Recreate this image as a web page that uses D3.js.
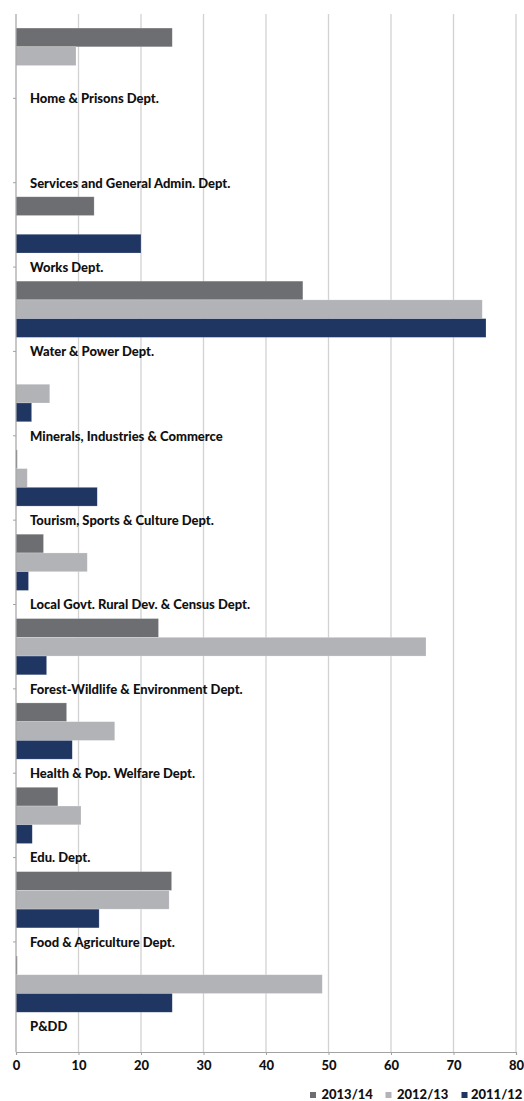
<!DOCTYPE html>
<html>
<head>
<meta charset="utf-8">
<script src="https://cdn.jsdelivr.net/npm/d3@7"></script>
<style>
  html, body { margin: 0; padding: 0; background: #fff; }
  svg { display: block; font-family: Lato, "Open Sans", sans-serif; }
</style>
</head>
<body>
<svg id="chart" width="524" height="1101"></svg>
<script>
// Departments, listed top to bottom
const departments = [
  "Home & Prisons Dept.",
  "Services and General Admin. Dept.",
  "Works Dept.",
  "Water & Power Dept.",
  "Minerals, Industries & Commerce",
  "Tourism, Sports & Culture Dept.",
  "Local Govt. Rural Dev. & Census Dept.",
  "Forest-Wildlife & Environment Dept.",
  "Health & Pop. Welfare Dept.",
  "Edu. Dept.",
  "Food & Agriculture Dept.",
  "P&DD"
];

const seriesNames = ["2013/14", "2012/13", "2011/12"];

const values2013_14 = [25.0, 0, 12.5, 45.9, 0, 0.2, 4.4, 22.8, 8.1, 6.7, 24.9, 0.2];
const values2012_13 = [9.6, 0, 0, 74.6, 5.4, 1.8, 11.4, 65.6, 15.8, 10.4, 24.5, 49.0];
const values2011_12 = [0, 0, 20.0, 75.2, 2.5, 13.0, 2.0, 4.9, 9.0, 2.6, 13.3, 25.0];

const xTicks = [0, 10, 20, 30, 40, 50, 60, 70, 80];

const seriesColors = ["#6d6e71", "#b1b3b6", "#1f3562"];

const seriesValues = [values2013_14, values2012_13, values2011_12];

const svg = d3.select("#chart");

const plotLeft = 16, plotRight = 516;
const plotTop = 14, plotBottom = 1052;
const bandsBottom = 1026.3;

const x = d3.scaleLinear().domain([0, 80]).range([plotLeft, plotRight]);

const y = d3.scaleBand()
  .domain(departments)
  .range([plotTop, bandsBottom])
  .paddingInner(0)
  .paddingOuter(0);

const ySeries = d3.scaleBand()
  .domain(seriesNames)
  .range([y.bandwidth() / 6, y.bandwidth() * 5 / 6])
  .padding(0);

// Vertical gridlines
svg.append("g")
  .selectAll("line")
  .data(xTicks.filter(d => d > 0))
  .join("line")
  .attr("x1", d => x(d)).attr("x2", d => x(d))
  .attr("y1", plotTop).attr("y2", plotBottom)
  .attr("stroke", "#d2d2d2")
  .attr("stroke-width", 1.3);

// Bars
const groups = svg.append("g")
  .selectAll("g")
  .data(departments)
  .join("g")
  .attr("transform", d => `translate(0,${y(d)})`);

groups.selectAll("rect")
  .data((d, i) => seriesNames.map((s, k) => ({ series: s, value: seriesValues[k][i], color: seriesColors[k] })))
  .join("rect")
  .filter(d => d.value > 0)
  .attr("x", x(0))
  .attr("y", d => ySeries(d.series))
  .attr("width", d => x(d.value) - x(0))
  .attr("height", ySeries.bandwidth())
  .attr("fill", d => d.color)
  .attr("stroke", "rgba(255,255,255,0.35)")
  .attr("stroke-width", 0.6);

// Department labels sit just under each group
groups.append("text")
  .attr("x", 30)
  .attr("y", y.bandwidth() + 4.8)
  .attr("font-size", 13)
  .attr("font-weight", 900)
  .attr("fill", "#111")
  .text(d => d);

// Left axis line with category boundary ticks
const axisColor = "#a3a3a3";
svg.append("line")
  .attr("x1", plotLeft).attr("x2", plotLeft)
  .attr("y1", plotTop).attr("y2", plotBottom)
  .attr("stroke", axisColor).attr("stroke-width", 1.2);

svg.append("g")
  .selectAll("line")
  .data(departments.slice(0, departments.length - 1))
  .join("line")
  .attr("x1", plotLeft - 3).attr("x2", plotLeft)
  .attr("y1", d => y(d) + y.bandwidth()).attr("y2", d => y(d) + y.bandwidth())
  .attr("stroke", axisColor).attr("stroke-width", 1);

// Bottom axis
const xAxis = svg.append("g")
  .attr("transform", `translate(0,${plotBottom})`)
  .call(d3.axisBottom(x).tickValues(xTicks).tickSize(3).tickPadding(6));

xAxis.select(".domain").attr("stroke", axisColor).attr("stroke-width", 1.2);
xAxis.selectAll(".tick line").attr("stroke", axisColor);
xAxis.selectAll(".tick text")
  .attr("font-family", "Lato, 'Open Sans', sans-serif")
  .attr("font-size", 13)
  .attr("font-weight", 900)
  .attr("fill", "#111");

// Legend
const legendItems = [
  { name: seriesNames[0], color: seriesColors[0], sx: 310, tx: 321.5 },
  { name: seriesNames[1], color: seriesColors[1], sx: 385.5, tx: 397 },
  { name: seriesNames[2], color: seriesColors[2], sx: 461.5, tx: 471 }
];

const legend = svg.append("g");
legend.selectAll("rect")
  .data(legendItems)
  .join("rect")
  .attr("x", d => d.sx).attr("y", 1092)
  .attr("width", 6).attr("height", 6)
  .attr("fill", d => d.color);

legend.selectAll("text")
  .data(legendItems)
  .join("text")
  .attr("x", d => d.tx).attr("y", 1099)
  .attr("font-size", 13)
  .attr("font-weight", 900)
  .attr("fill", "#111")
  .text(d => d.name);
</script>
</body>
</html>
